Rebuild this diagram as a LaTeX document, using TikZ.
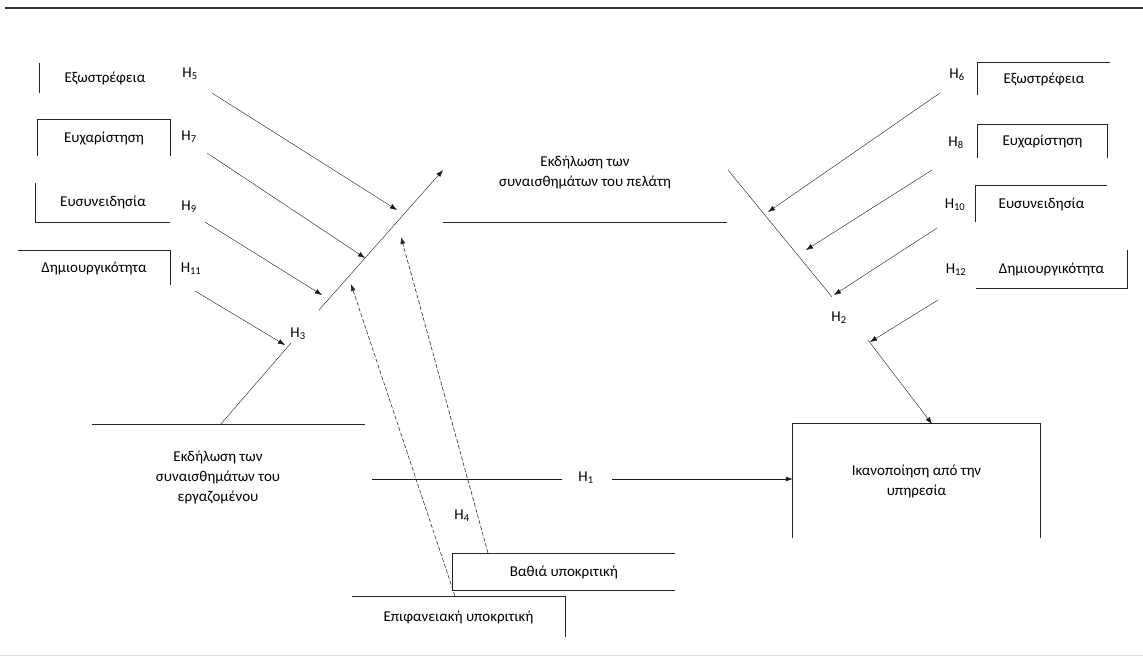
\documentclass[tikz,border=0pt]{standalone}
\usepackage{fontspec}
\setmainfont{Carlito}
\usetikzlibrary{arrows.meta}
\tikzstyle{factor}=[inner sep=0pt, font=\fontsize{15}{20}\selectfont]
\tikzstyle{hyp}=[inner sep=1pt, font=\fontsize{15}{20}\selectfont]
\tikzstyle{border}=[thick, black!85]
\tikzstyle{link}=[thin, black!90, -{Latex[length=7pt,width=5pt]}]
\tikzstyle{acting}=[semithick, black!85, dash pattern=on 4pt off 2pt, -{Latex[length=7pt,width=5pt]}]

\begin{document}
\begin{tikzpicture}[x=1pt, y=-1pt]
  \useasboundingbox (0,0) rectangle (1143,659);
  \draw[very thick, black!80] (5,8) -- (1143,8);
  \draw[black!15] (0,655) -- (1143,655);

  % left moderators
  \node[factor, minimum width=130, minimum height=30] (extL) at (105,78) {Εξωστρέφεια};
  \node[factor, minimum width=132, minimum height=36] (agrL) at (104,138) {Ευχαρίστηση};
  \node[factor, minimum width=134, minimum height=39] (conL) at (103,202.5) {Ευσυνειδησία};
  \node[factor, minimum width=152, minimum height=34] (creL) at (94,268) {Δημιουργικότητα};
  \draw[border] (extL.north west) -- (extL.south west);
  \draw[border] (agrL.south west) -- (agrL.north west) -- (agrL.north east) -- (agrL.south east);
  \draw[border] (conL.north west) -- (conL.south west) -- (conL.south east);
  \draw[border] (creL.north west) -- (creL.north east) -- (creL.south east);
  \node[hyp] (h5) at (190,74) {H\textsubscript{5}};
  \node[hyp] (h7) at (189,137) {H\textsubscript{7}};
  \node[hyp] (h9) at (189,207) {H\textsubscript{9}};
  \node[hyp] (h11) at (191,269) {H\textsubscript{11}};

  % right moderators
  \node[factor, minimum width=132, minimum height=32] (extR) at (1044,79) {Εξωστρέφεια};
  \node[factor, minimum width=129, minimum height=33] (agrR) at (1042.5,141.5) {Ευχαρίστηση};
  \node[factor, minimum width=131, minimum height=36] (conR) at (1041.5,204) {Ευσυνειδησία};
  \node[factor, minimum width=151, minimum height=38] (creR) at (1051.5,269) {Δημιουργικότητα};
  \draw[border] (extR.south west) -- (extR.north west) -- (extR.north east);
  \draw[border] (agrR.south west) -- (agrR.north west) -- (agrR.north east) -- (agrR.south east);
  \draw[border] (conR.south west) -- (conR.north west) -- (conR.north east);
  \draw[border] (creR.south west) -- (creR.south east) -- (creR.north east);
  \node[hyp] (h6) at (957,75) {H\textsubscript{6}};
  \node[hyp] (h8) at (956,143) {H\textsubscript{8}};
  \node[hyp] (h10) at (955,205) {H\textsubscript{10}};
  \node[hyp] (h12) at (956,270) {H\textsubscript{12}};

  % emotions
  \node[factor, align=center] (empl) at (218,477) {Εκδήλωση των\\συναισθημάτων του\\εργαζομένου};
  \node[factor, align=center] (cust) at (585,172) {Εκδήλωση των\\συναισθημάτων του πελάτη};
  \draw[border] (92,424) -- (365,424);
  \draw[border] (443,222) -- (727,222);

  % outcome and acting
  \node[factor, align=center, minimum width=247, minimum height=114] (sat) at (916.5,481) {Ικανοποίηση από την\\υπηρεσία};
  \node[factor, minimum width=222, minimum height=36] (deep) at (564,572) {Βαθιά υποκριτική};
  \node[factor, minimum width=213, minimum height=40] (surf) at (458.5,617) {Επιφανειακή υποκριτική};
  \draw[border] (sat.south west) -- (sat.north west) -- (sat.north east) -- (sat.south east);
  \draw[border] (deep.north east) -- (deep.north west) -- (deep.south west) -- (deep.south east);
  \draw[border] (surf.north west) -- (surf.north east) -- (surf.south east);

  \node[hyp] (h3) at (298,334) {H\textsubscript{3}};
  \node[hyp] (h2) at (839,318) {H\textsubscript{2}};
  \node[hyp] (h1) at (586,478) {H\textsubscript{1}};
  \node[hyp] (h4) at (462,516) {H\textsubscript{4}};

  % connectors
  \coordinate (m0) at (220,425);
  \coordinate (m1) at (291,343);
  \coordinate (m2) at (319,310);
  \coordinate (m3) at (443,170);
  \draw[thin, black!90] (m0) -- (m1);
  \draw[link] (m2) -- (m3);
  \coordinate (r0) at (728,170);
  \coordinate (r1) at (832,297);
  \coordinate (r2) at (868,340);
  \draw[thin, black!90] (r0) -- (r1);
  \draw[link] (r2) -- (932,424);
  \coordinate (b0) at (372,479);
  \coordinate (b1) at (562,479);
  \coordinate (b2) at (612,479);
  \draw[semithick, black!90] (b0) -- (b1);
  \draw[link, semithick] (b2) -- (b2 -| sat.west);

  \draw[link] (212,93) -- (397,210);
  \draw[link] (207,153) -- (365,258);
  \draw[link] (205,222) -- (322,295);
  \draw[link] (195,291) -- (285,345);
  \draw[link] (940,93) -- (768,212);
  \draw[link] (932,170) -- (806,250);
  \draw[link] (937,228) -- (834,295);
  \draw[link] (938,300) -- (870,342);

  \draw[acting] (488,553) -- (401,237);
  \draw[acting] (455,596) -- (351,284);
\end{tikzpicture}
\end{document}
